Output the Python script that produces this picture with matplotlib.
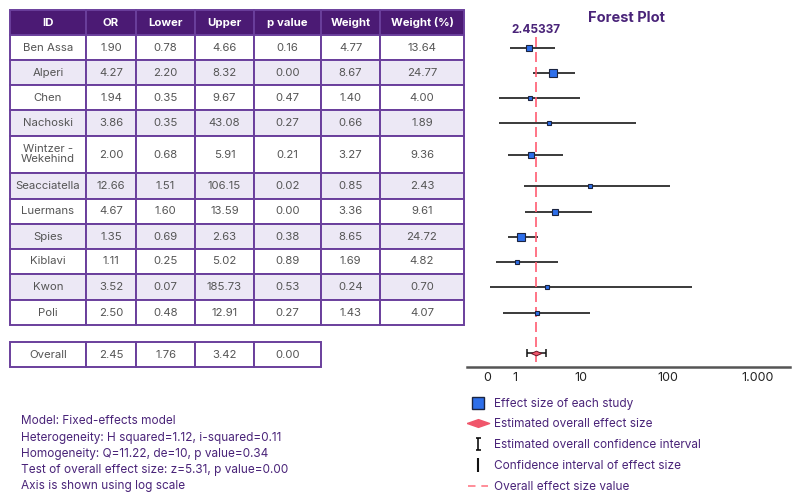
import numpy as np
import matplotlib.pyplot as plt
from matplotlib.patches import Rectangle
from matplotlib.lines import Line2D
from matplotlib.path import Path
from matplotlib.ticker import NullLocator

plt.rcParams['font.family'] = ['Inter', 'DejaVu Sans']

# --- dados do estudo ---
study_ids = ["Ben Assa", "Alperi", "Chen", "Nachoski", "Wintzer -\nWekehind",
             "Seacciatella", "Luermans", "Spies", "Kiblavi", "Kwon", "Poli"]
odds_ratio = [1.90, 4.27, 1.94, 3.86, 2.00, 12.66, 4.67, 1.35, 1.11, 3.52, 2.50]
lower = [0.78, 2.20, 0.35, 0.35, 0.68, 1.51, 1.60, 0.69, 0.25, 0.07, 0.48]
upper = [4.66, 8.32, 9.67, 43.08, 5.91, 106.15, 13.59, 2.63, 5.02, 185.73, 12.91]
p_values = [0.16, 0.00, 0.47, 0.27, 0.21, 0.02, 0.00, 0.38, 0.89, 0.53, 0.27]
weight = [4.77, 8.67, 1.40, 0.66, 3.27, 0.85, 3.36, 8.65, 1.69, 0.24, 1.43]
weight_pct = [13.64, 24.77, 4.00, 1.89, 9.36, 2.43, 9.61, 24.72, 4.82, 0.70, 4.07]

overall_or = 2.45337
overall_lower = 1.76
overall_upper = 3.42
overall_p = 0.00

columns = ["ID", "OR", "Lower", "Upper", "p value", "Weight", "Weight (%)"]
tick_values = [0, 1, 10, 100, 1000]
tick_labels = ["0", "1", "10", "100", "1.000"]

stats_lines = [
    "Model: Fixed-effects model",
    "Heterogeneity: H squared=1.12, i-squared=0.11",
    "Homogeneity: Q=11.22, de=10, p value=0.34",
    "Test of overall effect size: z=5.31, p value=0.00",
    "Axis is shown using log scale",
]
legend_labels = [
    "Effect size of each study",
    "Estimated overall effect size",
    "Estimated overall confidence interval",
    "Confidence interval of effect size",
    "Overall effect size value",
]

# --- cores ---
purple_dark = "#4b1a74"
purple_line = "#6a3f9c"
purple_text = "#4a2479"
lavender = "#ece8f5"
cell_text = "#555555"
blue = "#2e6fea"
red = "#ff5c72"

# --- layout da tabela (pixels) ---
col_edges = [10, 86, 136, 195, 254, 321, 380, 464]
header_top, header_h = 10, 25
row_heights = [25, 25, 25, 26, 37, 26, 25, 25, 25, 26, 25]
overall_top, overall_h = 342, 25

fig = plt.figure(figsize=(8, 4.99), dpi=100)
base = fig.add_axes([0, 0, 1, 1])
base.set_xlim(0, 800)
base.set_ylim(499, 0)
base.axis('off')


def cell(x0, x1, y0, h, text, face, color=cell_text, bold=False):
    base.add_patch(Rectangle((x0, y0), x1 - x0, h, facecolor=face,
                             edgecolor=purple_line, linewidth=1.4))
    base.text((x0 + x1) / 2, y0 + h / 2, text, ha='center', va='center',
              fontsize=8.2, color=color, linespacing=1.0,
              fontweight='bold' if bold else 'normal')


# cabeçalho
for c, name in enumerate(columns):
    cell(col_edges[c], col_edges[c + 1], header_top, header_h, name,
         purple_dark, color='white', bold=True)

# linhas dos estudos
row_centers = []
y = header_top + header_h
for i, sid in enumerate(study_ids):
    h = row_heights[i]
    face = 'white' if i % 2 == 0 else lavender
    vals = [sid, f"{odds_ratio[i]:.2f}", f"{lower[i]:.2f}", f"{upper[i]:.2f}",
            f"{p_values[i]:.2f}", f"{weight[i]:.2f}", f"{weight_pct[i]:.2f}"]
    for c, v in enumerate(vals):
        cell(col_edges[c], col_edges[c + 1], y, h, v, face)
    row_centers.append(y + h / 2)
    y += h

# linha do resultado geral
overall_vals = ["Overall", f"{overall_or:.2f}", f"{overall_lower:.2f}",
                f"{overall_upper:.2f}", f"{overall_p:.2f}"]
for c, v in enumerate(overall_vals):
    cell(col_edges[c], col_edges[c + 1], overall_top, overall_h, v, 'white')
overall_y = overall_top + overall_h / 2 - 2

# --- forest plot ---
axis_y = 367
fa = fig.add_axes([467 / 800, (499 - axis_y) / 499, (790 - 467) / 800, axis_y / 499])
fa.patch.set_alpha(0)


def fwd(x):
    return np.log10(np.maximum(np.asarray(x, dtype=float) + 1, 1e-9))


def inv(t):
    return 10 ** np.asarray(t, dtype=float) - 1


fa.set_xscale('function', functions=(fwd, inv))
fa.set_xlim(-0.41, 2295)
fa.set_ylim(axis_y, 0)

for i in range(len(study_ids)):
    yc = row_centers[i]
    fa.plot([lower[i], upper[i]], [yc, yc], color='#2b2b2b', lw=1.3,
            solid_capstyle='butt', zorder=2)
    side_px = 3 + 0.22 * weight_pct[i]
    fa.plot(odds_ratio[i], yc, marker='s', ms=side_px * 0.72, mfc=blue,
            mec='#1b2440', mew=0.8, ls='none', zorder=4)

fa.plot([overall_or, overall_or], [37, axis_y], color=red, lw=1.2,
        ls=(0, (6, 3)), zorder=3)

fa.errorbar(overall_or, overall_y,
            xerr=[[overall_or - overall_lower], [overall_upper - overall_or]],
            fmt='none', ecolor='#111111', elinewidth=1.1, capsize=3,
            capthick=1.1, zorder=4)
diamond = [(-1, 0), (0, 0.45), (1, 0), (0, -0.45), (-1, 0)]
fa.plot(overall_or, overall_y, marker=diamond, ms=7.5, mfc='#f0566b',
        mec='#6b1a2a', mew=0.7, ls='none', zorder=5)

fa.text(overall_or, 30, f"{overall_or:.5f}", ha='center', va='center',
        fontsize=8.5, fontweight='bold', color=purple_text)

fa.set_xticks(tick_values, tick_labels)
fa.xaxis.set_minor_locator(NullLocator())
fa.tick_params(axis='x', length=0, pad=3.5, labelsize=9, labelcolor='#222222')
fa.set_yticks([])
for side in ['top', 'left', 'right']:
    fa.spines[side].set_visible(False)
fa.spines['bottom'].set_color('#555555')
fa.spines['bottom'].set_linewidth(1.8)

fig.text(627 / 800, 1 - 18 / 499, "Forest Plot", ha='center', va='center',
         fontsize=10.5, fontweight='bold', color=purple_text)

# --- legenda ---
wide_diamond = [(-1, 0), (0, 0.35), (1, 0), (0, -0.35), (-1, 0)]
ibeam = Path([(-0.4, 1), (0.4, 1), (0, 1), (0, -1), (-0.4, -1), (0.4, -1)],
             [Path.MOVETO, Path.LINETO, Path.MOVETO, Path.LINETO,
              Path.MOVETO, Path.LINETO])
handles = [
    Line2D([], [], ls='none', marker='s', ms=8, mfc=blue, mec='#1b2440', mew=1),
    Line2D([], [], ls='none', marker=wide_diamond, ms=16, mfc='#f0566b',
           mec='#f0566b'),
    Line2D([], [], ls='none', marker=ibeam, ms=9, mfc='none', mec='#111111',
           mew=1.2),
    Line2D([], [], ls='none', marker='|', ms=10, mec='#111111', mew=1.5),
    Line2D([], [], color='#ff7a88', lw=1.2, ls=(0, (4.5, 3.5))),
]
fig.legend(handles, legend_labels, loc='upper left',
           bbox_to_anchor=(463 / 800, 1 - 393 / 499), frameon=False,
           fontsize=8.5, labelcolor=purple_text, handlelength=1.75,
           handletextpad=0.45, labelspacing=0.74, borderpad=0.4,
           borderaxespad=0)

# --- estatísticas ---
for i, line in enumerate(stats_lines):
    fig.text(21 / 800, 1 - (421.5 + 16.2 * i) / 499, line, fontsize=8.5,
             color=purple_text, va='center')

fig.savefig("out.png", dpi=100)
